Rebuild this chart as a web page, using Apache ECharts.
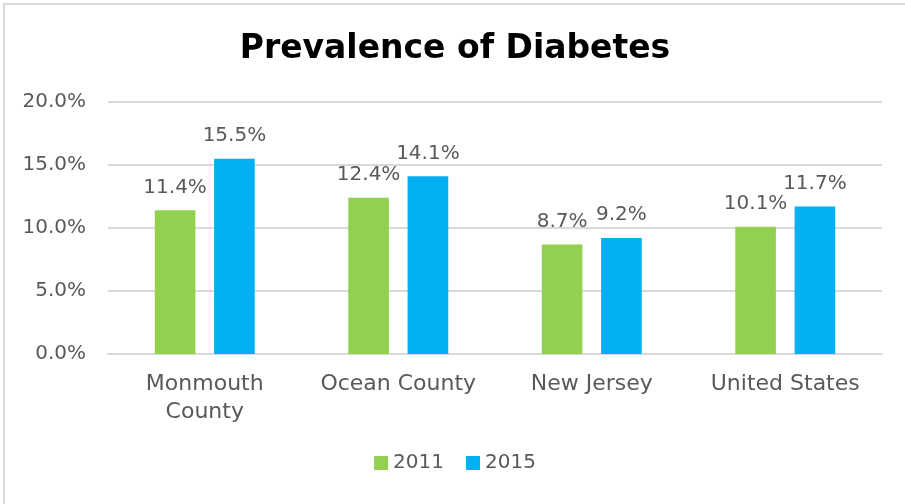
<!DOCTYPE html>
<html>
<head>
<meta charset="utf-8">
<script src="https://cdn.jsdelivr.net/npm/echarts@6/dist/echarts.min.js"></script>
<style>
  html, body { margin: 0; padding: 0; background: #fff; }
  #chart {
    position: absolute; left: 3px; top: 3px;
    width: 902px; height: 501px;
    border-left: 2px solid #d9d9d9; border-top: 2px solid #d9d9d9;
    box-sizing: border-box;
  }
</style>
</head>
<body>
<div id="chart"></div>
<script>
// 数据
const categories = ['Monmouth\nCounty', 'Ocean County', 'New Jersey', 'United States']
const values2011 = [11.4, 12.4, 8.7, 10.1]
const values2015 = [15.5, 14.1, 9.2, 11.7]
const yTicks = [0, 5, 10, 15, 20]

const font = 'DejaVu Sans'
const textColor = '#595959'

const labelStyle = {
  show: true,
  position: 'top',
  distance: 13,
  color: textColor,
  fontFamily: font,
  fontSize: 20,
  formatter: p => p.value.toFixed(1) + '%'
}

const option = {
  animation: false,
  title: {
    text: 'Prevalence of Diabetes',
    left: 'center',
    top: 23,
    textStyle: { fontFamily: font, fontWeight: 'bold', fontSize: 33, color: '#000' }
  },
  legend: {
    bottom: 26,
    left: 'center',
    itemWidth: 14,
    itemHeight: 14,
    itemGap: 22,
    icon: 'rect',
    textStyle: { fontFamily: font, fontSize: 20, color: textColor },
    data: ['2011', '2015']
  },
  grid: { left: 103, right: 23, top: 97, bottom: 150 },
  xAxis: {
    type: 'category',
    data: categories,
    axisLine: { lineStyle: { color: '#d9d9d9', width: 2 } },
    axisTick: { show: false },
    axisLabel: {
      color: textColor, fontFamily: font, fontSize: 22,
      margin: 16, lineHeight: 28, interval: 0
    }
  },
  yAxis: {
    type: 'value',
    min: yTicks[0],
    max: yTicks[yTicks.length - 1],
    interval: 5,
    axisLine: { show: false },
    axisTick: { show: false },
    axisLabel: {
      color: textColor, fontFamily: font, fontSize: 20, margin: 22,
      formatter: v => v.toFixed(1) + '%'
    },
    splitLine: { lineStyle: { color: '#d9d9d9', width: 2 } }
  },
  series: [{
    name: '2011',
    type: 'bar',
    data: values2011,
    barWidth: '21%',
    barGap: '46%',
    itemStyle: { color: '#92d050' },
    label: labelStyle
  }, {
    name: '2015',
    type: 'bar',
    data: values2015,
    barWidth: '21%',
    itemStyle: { color: '#00b0f0' },
    label: labelStyle
  }]
}

echarts.init(document.getElementById('chart')).setOption(option)
</script>
</body>
</html>
